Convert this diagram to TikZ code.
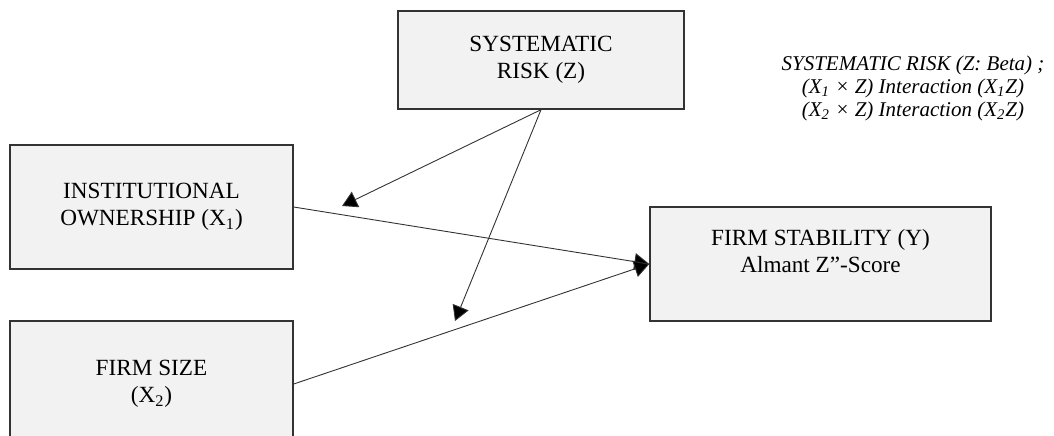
\documentclass[tikz,border=0pt]{standalone}
\usepackage{fontspec}
\setmainfont{Liberation Serif}
\usepackage{tikz}
\usetikzlibrary{arrows.meta,positioning}

\begin{document}
\begin{tikzpicture}[
  x=0.5pt, y=-0.5pt,
  >={Triangle[length=7.5pt,width=8.5pt,fill=black]},
  var/.style={draw=black!80, line width=0.7pt, fill=black!5,
    align=center, inner sep=0pt, font=\fontsize{11.6}{13.5}\selectfont},
  arrow/.style={->, line width=0.45pt, black!80},
  note/.style={align=center, inner sep=0pt,
    font=\fontsize{10.5}{11.5}\selectfont\itshape}
]
  \clip (0,0) rectangle (1054,435);

  \node[var, minimum width=143pt, minimum height=49pt] (risk) at (541,60)
    {SYSTEMATIC\\RISK (Z)};

  \node[var, minimum width=141.5pt, minimum height=62pt] (inst) at (151.5,207)
    {INSTITUTIONAL\\OWNERSHIP (X\textsubscript{1})};

  \node[var, minimum width=141.5pt, minimum height=63pt] (size) at (151.5,384)
    {FIRM SIZE\\(X\textsubscript{2})};

  \node[var, minimum width=170.5pt, minimum height=57pt] (stab) at (820.5,264)
    {FIRM STABILITY (Y)\\Almant Z”-Score\\\mbox{}};

  \node[note] (legend) at (913,88)
    {SYSTEMATIC RISK (Z: Beta) ;\\
     (X\textsubscript{1} × Z) Interaction (X\textsubscript{1}Z)\\
     (X\textsubscript{2} × Z) Interaction (X\textsubscript{2}Z)};

  % moderation arrows end on the paths
  \coordinate (mod1) at (342,206);
  \coordinate (mod2) at (455,321);

  \draw[arrow] (inst.east) -- (stab.west);
  \draw[arrow] (size.east) -- (stab.west);
  \draw[arrow] (risk.south) -- (mod1);
  \draw[arrow] (risk.south) -- (mod2);
\end{tikzpicture}
\end{document}
